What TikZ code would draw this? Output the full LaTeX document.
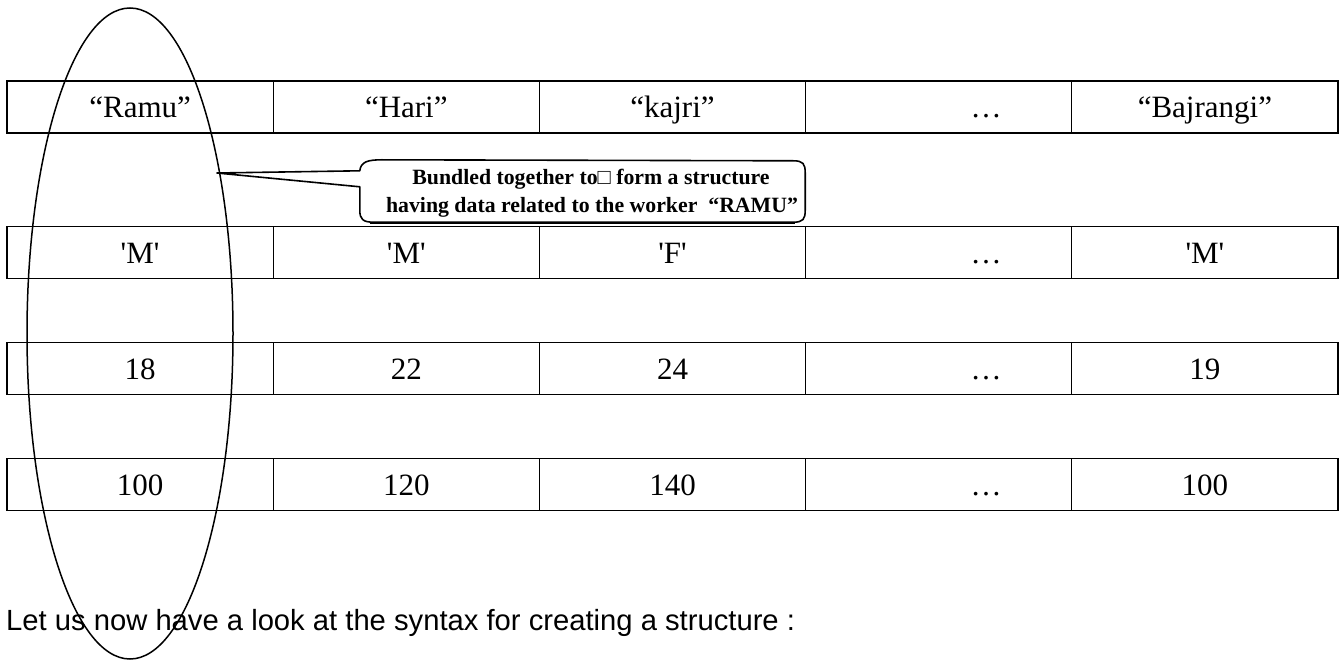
\documentclass[tikz,border=0pt]{standalone}
\usepackage{fontspec}
\setmainfont{Liberation Serif}[Ligatures=TeXOff]
\newfontfamily\sanstext{Liberation Sans}
\usetikzlibrary{shapes.geometric,calc}
\begin{document}
\begin{tikzpicture}[x=1pt,y=-1pt,
  cell/.style={draw, line width=1.2pt, minimum width=266.2pt, minimum height=52pt,
    inner sep=0pt, text height=22pt, text depth=0pt,
    font=\fontsize{31pt}{31pt}\selectfont},
  celltext/.style={inner sep=0pt, text height=22pt, text depth=0pt,
    font=\fontsize{31pt}{31pt}\selectfont},
  notetext/.style={inner sep=0pt, anchor=base,
    font=\fontsize{21.8pt}{21.8pt}\selectfont\bfseries},
  calloutline/.style={line width=1.6pt, line join=round},
  bundleline/.style={draw, ellipse, line width=1.5pt, inner sep=0pt,
    minimum width=206pt, minimum height=651pt}]
\useasboundingbox (0,0) rectangle (1340,660);

% row 1: names
\node[cell] (r1c1) at (140.1,107) {“Ramu”};
\node[cell] (r1c2) at (406.3,107) {“Hari”};
\node[cell] (r1c3) at (672.5,107) {“kajri”};
\node[cell] (r1c4) at (938.7,107) {};
\node[cell] (r1c5) at (1204.9,107) {“Bajrangi”};
\node[celltext] (r1dots) at (986,107) {…};

% row 2: sex
\node[cell] (r2c1) at (140.1,252.5) {'M'};
\node[cell] (r2c2) at (406.3,252.5) {'M'};
\node[cell] (r2c3) at (672.5,252.5) {'F'};
\node[cell] (r2c4) at (938.7,252.5) {};
\node[cell] (r2c5) at (1204.9,252.5) {'M'};
\node[celltext] (r2dots) at (986,252.5) {…};

% row 3: age
\node[cell] (r3c1) at (140.1,368.5) {18};
\node[cell] (r3c2) at (406.3,368.5) {22};
\node[cell] (r3c3) at (672.5,368.5) {24};
\node[cell] (r3c4) at (938.7,368.5) {};
\node[cell] (r3c5) at (1204.9,368.5) {19};
\node[celltext] (r3dots) at (986,368.5) {…};

% row 4: wage
\node[cell] (r4c1) at (140.1,484.5) {100};
\node[cell] (r4c2) at (406.3,484.5) {120};
\node[cell] (r4c3) at (672.5,484.5) {140};
\node[cell] (r4c4) at (938.7,484.5) {};
\node[cell] (r4c5) at (1204.9,484.5) {100};
\node[celltext] (r4dots) at (986,484.5) {…};

% callout box with its pointer
\node[minimum width=445pt, minimum height=61pt, inner sep=0pt] (callout) at (582.5,191.5) {};
\coordinate (tip) at (217,173);
\draw[calloutline]
  ($(callout.north west)+(0,26)$) -- (tip) -- ($(callout.north west)+(0,10)$)
  .. controls ($(callout.north west)+(1,1)$) and ($(callout.north west)+(8,-1)$) .. ($(callout.north west)+(22,-1)$)
  -- ($(callout.north east)+(-12,0)$)
  .. controls ($(callout.north east)+(-2,0)$) and ($(callout.north east)+(0,3)$) .. ($(callout.north east)+(0,12)$)
  -- ($(callout.south east)+(0,-12)$)
  .. controls ($(callout.south east)+(0,-3)$) and ($(callout.south east)+(-2,0)$) .. ($(callout.south east)+(-12,0)$)
  -- ($(callout.south west)+(14,0)$)
  .. controls ($(callout.south west)+(3,0)$) and ($(callout.south west)+(0,-3)$) .. ($(callout.south west)+(0,-12)$)
  -- cycle;
% slight shadow along the lower edge
\draw[line width=1.2pt]
  ($(callout.south west)+(10,1.2)$) -- ($(callout.south east)+(-10,1.2)$);
\node[notetext] (note1) at (591,185) {Bundled together to□ form a structure};
\node[notetext] (note2) at (592,213) {having data related to the worker\ \ “RAMU”};

% ellipse bundling the first column
\node[bundleline] (bundle) at (130,333.5) {};

% text line below
\node[inner sep=0pt, anchor=base west, font=\sanstext\fontsize{29.2pt}{29.2pt}\selectfont]
  (syntaxline) at (6,630) {Let us now have a look at the syntax for creating a structure :};
\end{tikzpicture}
\end{document}
